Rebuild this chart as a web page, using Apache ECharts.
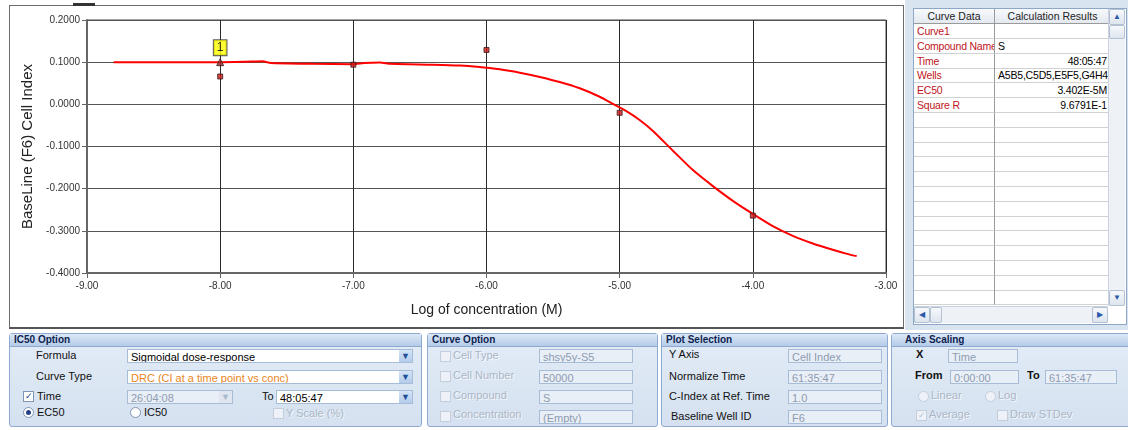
<!DOCTYPE html>
<html>
<head>
<meta charset="utf-8">
<script src="https://cdn.jsdelivr.net/npm/echarts@6/dist/echarts.min.js"></script>
<style>
  html, body { margin: 0; padding: 0; }
  body {
    width: 1128px; height: 430px; position: relative; overflow: hidden;
    background: #ffffff; font-family: "Liberation Sans", Arial, sans-serif;
    font-size: 11px; color: #000;
  }
  .abs { position: absolute; }
  #frame { left: 9px; top: 5px; width: 893px; height: 321px; border: 1px solid #6b6b6b; border-bottom: 2px solid #555; background: #fff; }
  #chart { left: 0; top: 0; width: 905px; height: 330px; }
  #tab { left: 73px; top: 3px; width: 22px; height: 3px; background: #333; }

  /* results grid */
  #side { left: 905px; top: 0; width: 223px; height: 330px; background: #d9e4f1; }
  #grid { left: 913px; top: 8px; width: 212px; height: 315px; background: #fff; border: 1px solid #8ea7c6; overflow: hidden; font-size: 10.5px; letter-spacing: -0.2px; }
  .cell { position: absolute; height: 14px; line-height: 14px; white-space: nowrap; overflow: hidden; border-bottom: 1px solid #d2d2d2; box-sizing: content-box; }
  .c1 { left: 0; width: 77px; border-right: 1px solid #9a9a9a; padding-left: 3px; color: #c0141c; }
  .c2 { left: 81px; width: 109px; padding: 0 3px 0 3px; }
  .hd { background: linear-gradient(#f7f9fc, #e4e9f0); color: #222; text-align: center; border-bottom: 1px solid #9a9a9a; padding: 0; letter-spacing: 0; }
  .vscroll { left: 1108px; top: 9px; width: 16px; height: 297px; background: #eef2f7; border-left: 1px solid #c9d3df; }
  .hscroll { left: 914px; top: 306px; width: 194px; height: 16px; background: #eef2f7; border-top: 1px solid #c9d3df; }
  .sbtn { position: absolute; width: 14px; height: 14px; background: linear-gradient(#f6f8fb, #dde5ef); border: 1px solid #b3c1d3; border-radius: 2px; color: #2a5aa8; font-size: 8px; line-height: 14px; text-align: center; }

  /* option panels */
  .panel { position: absolute; top: 333px; height: 92px; background: linear-gradient(#e3ecf7, #d5e1f0); border: 1px solid #8eaad0; border-radius: 3px; }
  .phead { position: absolute; left: 0; right: 0; top: 0; height: 12px; line-height: 12px; padding-left: 4px; font-weight: bold; font-size: 10px; color: #0e2350; background: linear-gradient(#dce8f7, #b4cbe8); border-bottom: 1px solid #8eaad0; }
  .lbl { position: absolute; height: 14px; line-height: 14px; white-space: nowrap; color: #111; }
  .dis { color: #aab6c6; text-shadow: 1px 1px 0 #f4f7fb; }
  .box { position: absolute; height: 14px; line-height: 14px; background: #fff; border: 1px solid #a7bcd6; padding-left: 3px; white-space: nowrap; overflow: hidden; box-sizing: border-box; }
  .rbox { background: #e9eff7; color: #8d9bb0; }
  .drop { position: absolute; right: 0; top: 0; width: 13px; height: 12px; background: linear-gradient(#d6e4f6, #b3cbeb); color: #1f4f9a; font-size: 9px; line-height: 12px; text-align: center; }
  .chk { position: absolute; width: 9px; height: 9px; border: 1px solid #7f95b3; background: #fff; font-size: 9px; line-height: 9px; text-align: center; color: #23408a; }
  .chk.off { border-color: #c3cedc; background: #eef2f8; color: #b6c3d4; }
  .rad { position: absolute; width: 9px; height: 9px; border: 1px solid #7f95b3; border-radius: 50%; background: #fff; }
  .rad.on::after { content: ""; position: absolute; left: 2px; top: 2px; width: 5px; height: 5px; border-radius: 50%; background: #23408a; }
  .rad.off { border-color: #c3cedc; background: #eef2f8; }
</style>
</head>
<body>
<div id="frame" class="abs"></div>
<div id="tab" class="abs"></div>
<div id="chart" class="abs"></div>

<div id="side" class="abs"></div>
<div id="grid" class="abs"></div>
<div class="abs vscroll">
  <div class="sbtn" style="left:0;top:0;">&#9650;</div>
  <div class="sbtn" style="left:0;top:16px;height:12px;"></div>
  <div class="sbtn" style="left:0;bottom:0;">&#9660;</div>
</div>
<div class="abs hscroll">
  <div class="sbtn" style="left:0;top:0;">&#9664;</div>
  <div class="sbtn" style="left:16px;top:0;width:10px;"></div>
  <div class="sbtn" style="right:0;top:0;">&#9654;</div>
</div>

<!-- IC50 Option -->
<div class="panel" style="left:9px;width:411px;"><div class="phead">IC50 Option</div></div>
<div class="lbl" style="left:36px;top:348px;">Formula</div>
<div class="box" style="left:127px;top:349px;width:286px;">Sigmoidal dose-response<div class="drop">&#9660;</div></div>
<div class="lbl" style="left:36px;top:369px;">Curve Type</div>
<div class="box" style="left:127px;top:370px;width:286px;color:#e8851c;">DRC (CI at a time point vs conc)<div class="drop">&#9660;</div></div>
<div class="chk" style="left:23px;top:391px;">&#10003;</div>
<div class="lbl" style="left:37px;top:389px;">Time</div>
<div class="box rbox" style="left:127px;top:390px;width:106px;">26:04:08<div class="drop" style="background:#dfe6ef;color:#a9b8cc;">&#9660;</div></div>
<div class="lbl" style="left:262px;top:389px;">To</div>
<div class="box" style="left:276px;top:390px;width:137px;">48:05:47<div class="drop">&#9660;</div></div>
<div class="rad on" style="left:23px;top:407px;"></div>
<div class="lbl" style="left:37px;top:405px;">EC50</div>
<div class="rad" style="left:130px;top:407px;"></div>
<div class="lbl" style="left:144px;top:405px;">IC50</div>
<div class="chk off" style="left:273px;top:408px;"></div>
<div class="lbl dis" style="left:286px;top:406px;">Y Scale (%)</div>

<!-- Curve Option -->
<div class="panel" style="left:427px;width:229px;"><div class="phead">Curve Option</div></div>
<div class="chk off" style="left:440px;top:351px;"></div>
<div class="lbl dis" style="left:453px;top:348px;">Cell Type</div>
<div class="box rbox" style="left:539px;top:349px;width:94px;">shsy5y-S5</div>
<div class="chk off" style="left:440px;top:371px;"></div>
<div class="lbl dis" style="left:453px;top:368px;">Cell Number</div>
<div class="box rbox" style="left:539px;top:370px;width:94px;">50000</div>
<div class="chk off" style="left:440px;top:391px;"></div>
<div class="lbl dis" style="left:453px;top:388px;">Compound</div>
<div class="box rbox" style="left:539px;top:390px;width:94px;">S</div>
<div class="chk off" style="left:440px;top:411px;"></div>
<div class="lbl dis" style="left:453px;top:407px;">Concentration</div>
<div class="box rbox" style="left:539px;top:410px;width:94px;">(Empty)</div>

<!-- Plot Selection -->
<div class="panel" style="left:661px;width:225px;"><div class="phead">Plot Selection</div></div>
<div class="lbl" style="left:669px;top:347px;">Y Axis</div>
<div class="box rbox" style="left:788px;top:349px;width:94px;">Cell Index</div>
<div class="lbl" style="left:669px;top:369px;">Normalize Time</div>
<div class="box rbox" style="left:788px;top:370px;width:94px;">61:35:47</div>
<div class="lbl" style="left:669px;top:389px;">C-Index at Ref. Time</div>
<div class="box rbox" style="left:788px;top:390px;width:94px;">1.0</div>
<div class="lbl" style="left:671px;top:409px;">Baseline Well ID</div>
<div class="box rbox" style="left:788px;top:410px;width:94px;">F6</div>

<!-- Axis Scaling -->
<div class="panel" style="left:891px;width:240px;"><div class="phead" style="padding-left:13px;">Axis Scaling</div></div>
<div class="lbl" style="left:916px;top:347px;font-weight:bold;">X</div>
<div class="box rbox" style="left:948px;top:349px;width:70px;">Time</div>
<div class="lbl" style="left:915px;top:368px;font-weight:bold;">From</div>
<div class="box rbox" style="left:950px;top:370px;width:69px;">0:00:00</div>
<div class="lbl" style="left:1027px;top:368px;font-weight:bold;">To</div>
<div class="box rbox" style="left:1045px;top:370px;width:72px;">61:35:47</div>
<div class="rad off" style="left:918px;top:391px;"></div>
<div class="lbl dis" style="left:931px;top:388px;">Linear</div>
<div class="rad off" style="left:985px;top:391px;"></div>
<div class="lbl dis" style="left:998px;top:388px;">Log</div>
<div class="chk off" style="left:916px;top:410px;color:#b6c3d4;">&#10003;</div>
<div class="lbl dis" style="left:929px;top:407px;">Average</div>
<div class="chk off" style="left:997px;top:410px;"></div>
<div class="lbl dis" style="left:1010px;top:407px;">Draw STDev</div>

<script>
// Fitted dose-response curve (log M, baseline cell index)
const curveX = [-8.80, -8.40, -8.00, -7.81, -7.68, -7.62, -7.30, -7.00, -6.92, -6.80, -6.72, -6.40,
                -6.20, -6.07, -5.90, -5.75, -5.60, -5.45, -5.30, -5.15, -5.05, -4.95, -4.85, -4.75,
                -4.60, -4.45, -4.30, -4.15, -4.00, -3.85, -3.70, -3.55, -3.40, -3.30, -3.22];
const curveY = [0.100, 0.100, 0.100, 0.101, 0.102, 0.098, 0.096, 0.095, 0.098, 0.099, 0.096, 0.094,
                0.092, 0.089, 0.083, 0.075, 0.065, 0.053, 0.038, 0.018, 0.001, -0.016, -0.037, -0.063,
                -0.110, -0.156, -0.194, -0.229, -0.260, -0.289, -0.312, -0.330, -0.345, -0.354, -0.360];

// Measured well averages
const pointX = [-8, -8, -7, -6, -5, -4];
const pointY = [0.100, 0.066, 0.094, 0.129, -0.020, -0.264];
const markedIndex = 0;     // point carrying the "1" flag
const markLabel = '1';

// Curve data / calculation results table
const gridHeader = ['Curve Data', 'Calculation Results'];
const gridNames = ['Curve1', 'Compound Name', 'Time', 'Wells', 'EC50', 'Square R'];
const gridValues = ['', 'S', '48:05:47', 'A5B5,C5D5,E5F5,G4H4,G5H5', '3.402E-5M', '9.6791E-1'];
const gridAlign = ['left', 'left', 'right', 'left', 'right', 'right'];
const gridRowCount = 19;

// build the results grid
(function () {
  const g = document.getElementById('grid');
  const rowH = 14.8;
  const mk = (cls, top, text, extra) => {
    const d = document.createElement('div');
    d.className = 'cell ' + cls;
    d.style.top = top + 'px';
    if (extra) Object.assign(d.style, extra);
    d.textContent = text;
    g.appendChild(d);
  };
  mk('c1 hd', 0, gridHeader[0], { width: '80px', paddingLeft: '0' });
  mk('c2 hd', 0, gridHeader[1], { width: '115px', paddingLeft: '0', paddingRight: '0' });
  for (let i = 0; i < gridRowCount; i++) {
    const top = 15 + i * rowH;
    mk('c1', top, gridNames[i] || '');
    mk('c2', top, gridValues[i] || '', { textAlign: gridAlign[i] || 'left' });
  }
})();

const chart = echarts.init(document.getElementById('chart'), null, { renderer: 'canvas' });
const font = '"Liberation Sans", Arial, sans-serif';

const pointData = pointX.map((x, i) => {
  const item = { value: [x, pointY[i]] };
  if (i === markedIndex) {
    item.symbol = 'triangle';
    item.symbolSize = 7;
    item.itemStyle = { color: '#9a2a2a', borderColor: '#3a1a1a', borderWidth: 1 };
    item.label = {
      show: true, position: 'top', distance: 3, formatter: markLabel,
      backgroundColor: '#ffff00', borderColor: '#333', borderWidth: 1,
      padding: [2, 3, 1, 3], color: '#000', fontSize: 12, fontFamily: font
    };
  }
  return item;
});

chart.setOption({
  animation: false,
  backgroundColor: 'transparent',
  grid: { left: 87, top: 20, right: 19, bottom: 57, show: true, borderColor: '#444', borderWidth: 1 },
  xAxis: {
    type: 'value', min: -9, max: -3, interval: 1,
    name: 'Log of concentration (M)', nameLocation: 'middle', nameGap: 30,
    nameTextStyle: { fontSize: 14, color: '#222', fontFamily: font },
    axisLine: { show: true, onZero: false, lineStyle: { color: '#666', width: 2 } },
    axisTick: { show: true, length: 5, lineStyle: { color: '#666' } },
    axisLabel: { fontSize: 10, color: '#333', margin: 8, fontFamily: font, formatter: v => v.toFixed(2) },
    splitLine: { show: true, lineStyle: { color: '#2a2a2a', width: 1 } }
  },
  yAxis: {
    type: 'value', min: -0.4, max: 0.2, interval: 0.1,
    name: 'BaseLine (F6) Cell Index', nameLocation: 'middle', nameGap: 52,
    nameTextStyle: { fontSize: 15, color: '#222', fontFamily: font },
    axisLine: { show: true, onZero: false, lineStyle: { color: '#666', width: 2 } },
    axisTick: { show: true, length: 5, lineStyle: { color: '#666' } },
    axisLabel: { fontSize: 10, color: '#333', margin: 7, fontFamily: font, formatter: v => v.toFixed(4) },
    splitLine: { show: true, lineStyle: { color: '#555', width: 1 } }
  },
  series: [
    {
      type: 'line', data: curveX.map((x, i) => [x, curveY[i]]),
      showSymbol: false, smooth: 0.2, z: 2,
      lineStyle: { color: '#ff0000', width: 2 }
    },
    {
      type: 'scatter', data: pointData, symbol: 'rect', symbolSize: 5, z: 3,
      itemStyle: { color: '#d01818', borderColor: '#3a1a1a', borderWidth: 1 }
    }
  ]
});
</script>
</body>
</html>
